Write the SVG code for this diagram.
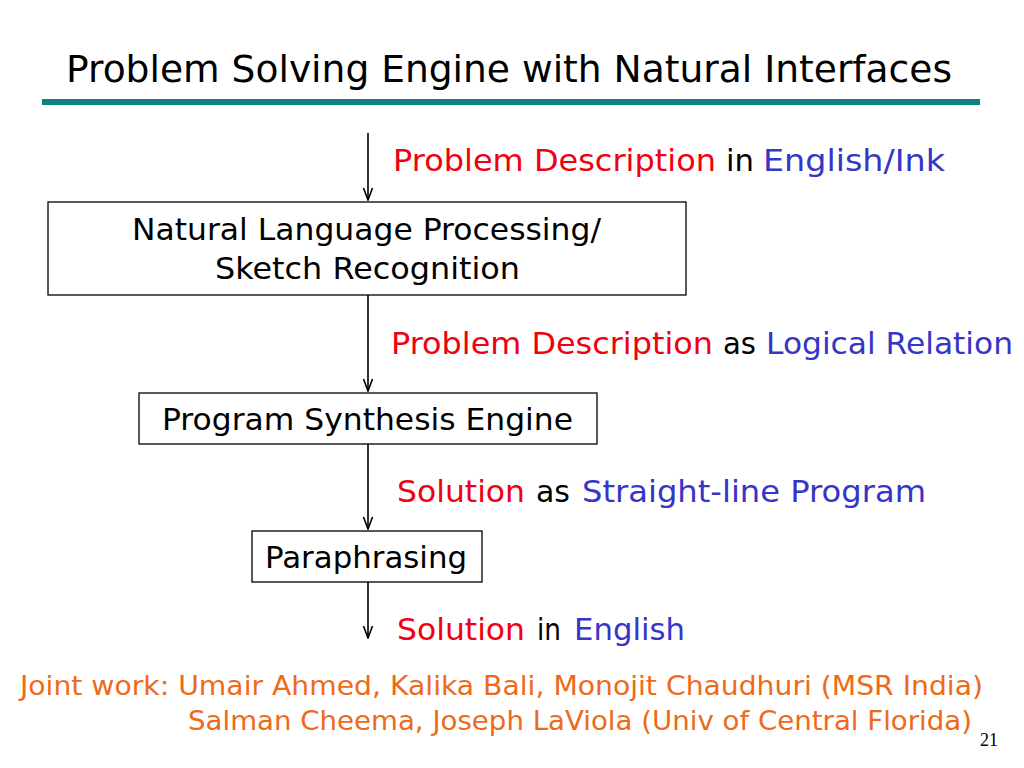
<svg xmlns="http://www.w3.org/2000/svg" width="1024" height="768" viewBox="0 0 1024 768">
<style>
text{font-family:"DejaVu Sans","Open Sans",sans-serif;}
.t{font-size:31px;fill:#000;}
.r{fill:#F00010;}
.b{fill:#3535C8;}
.k{fill:#000;}
.box{fill:#fff;stroke:#000;stroke-width:1.3;}
.con{stroke:#000;stroke-width:1.6;fill:none;marker-end:url(#ah);}
.foot{font-size:27px;fill:#EE6A18;}
</style>
<defs>
<marker id="ah" viewBox="0 0 14 12" refX="13" refY="6" markerWidth="14" markerHeight="12" markerUnits="userSpaceOnUse" orient="auto">
<path d="M1,1.5 L13,6 L1,10.5" fill="none" stroke="#000" stroke-width="1.6"/>
</marker>
</defs>
<rect width="1024" height="768" fill="#fff"/>
<g id="title">
<text x="66" y="82" font-size="38" textLength="886" lengthAdjust="spacingAndGlyphs">Problem Solving Engine with Natural Interfaces</text>
<rect x="42" y="99" width="938" height="6" fill="#0F7F7F"/>
</g>
<g id="connectors">
<line class="con" x1="368" y1="133" x2="368" y2="200"/>
<line class="con" x1="368" y1="295" x2="368" y2="391"/>
<line class="con" x1="368" y1="444" x2="368" y2="529"/>
<line class="con" x1="368" y1="582" x2="368" y2="638"/>
</g>
<g id="label1" class="t">
<text y="171"><tspan class="r" x="393" textLength="323" lengthAdjust="spacingAndGlyphs">Problem Description</tspan><tspan class="k" x="726" textLength="28" lengthAdjust="spacingAndGlyphs">in</tspan><tspan class="b" x="763" textLength="182" lengthAdjust="spacingAndGlyphs">English/Ink</tspan></text>
</g>
<g id="node-nlp">
<rect class="box" x="48" y="202" width="638" height="93"/>
<text class="t" x="132" y="240" textLength="469" lengthAdjust="spacingAndGlyphs">Natural Language Processing/</text>
<text class="t" x="215" y="279" textLength="305" lengthAdjust="spacingAndGlyphs">Sketch Recognition</text>
</g>
<g id="label2" class="t">
<text y="354"><tspan class="r" x="391" textLength="322" lengthAdjust="spacingAndGlyphs">Problem Description</tspan><tspan class="k" x="723" textLength="33" lengthAdjust="spacingAndGlyphs">as</tspan><tspan class="b" x="766" textLength="247" lengthAdjust="spacingAndGlyphs">Logical Relation</tspan></text>
</g>
<g id="node-synthesis">
<rect class="box" x="139" y="393" width="458" height="51"/>
<text class="t" x="162" y="430" textLength="411" lengthAdjust="spacingAndGlyphs">Program Synthesis Engine</text>
</g>
<g id="label3" class="t">
<text y="502"><tspan class="r" x="397" textLength="128" lengthAdjust="spacingAndGlyphs">Solution</tspan><tspan class="k" x="536" textLength="34" lengthAdjust="spacingAndGlyphs">as</tspan><tspan class="b" x="582" textLength="344" lengthAdjust="spacingAndGlyphs">Straight-line Program</tspan></text>
</g>
<g id="node-paraphrasing">
<rect class="box" x="252" y="531" width="230" height="51"/>
<text class="t" x="265" y="568" textLength="202" lengthAdjust="spacingAndGlyphs">Paraphrasing</text>
</g>
<g id="label4" class="t">
<text y="640"><tspan class="r" x="397" textLength="128" lengthAdjust="spacingAndGlyphs">Solution</tspan><tspan class="k" x="537" textLength="24" lengthAdjust="spacingAndGlyphs">in</tspan><tspan class="b" x="574" textLength="111" lengthAdjust="spacingAndGlyphs">English</tspan></text>
</g>
<g id="footer">
<text class="foot" x="20" y="695" textLength="963" lengthAdjust="spacingAndGlyphs">Joint work: Umair Ahmed, Kalika Bali, Monojit Chaudhuri (MSR India)</text>
<text class="foot" x="188" y="730" textLength="784" lengthAdjust="spacingAndGlyphs">Salman Cheema, Joseph LaViola (Univ of Central Florida)</text>
<text x="980" y="746" font-size="18" style="font-family:'Liberation Serif',serif" fill="#000">21</text>
</g>
</svg>
